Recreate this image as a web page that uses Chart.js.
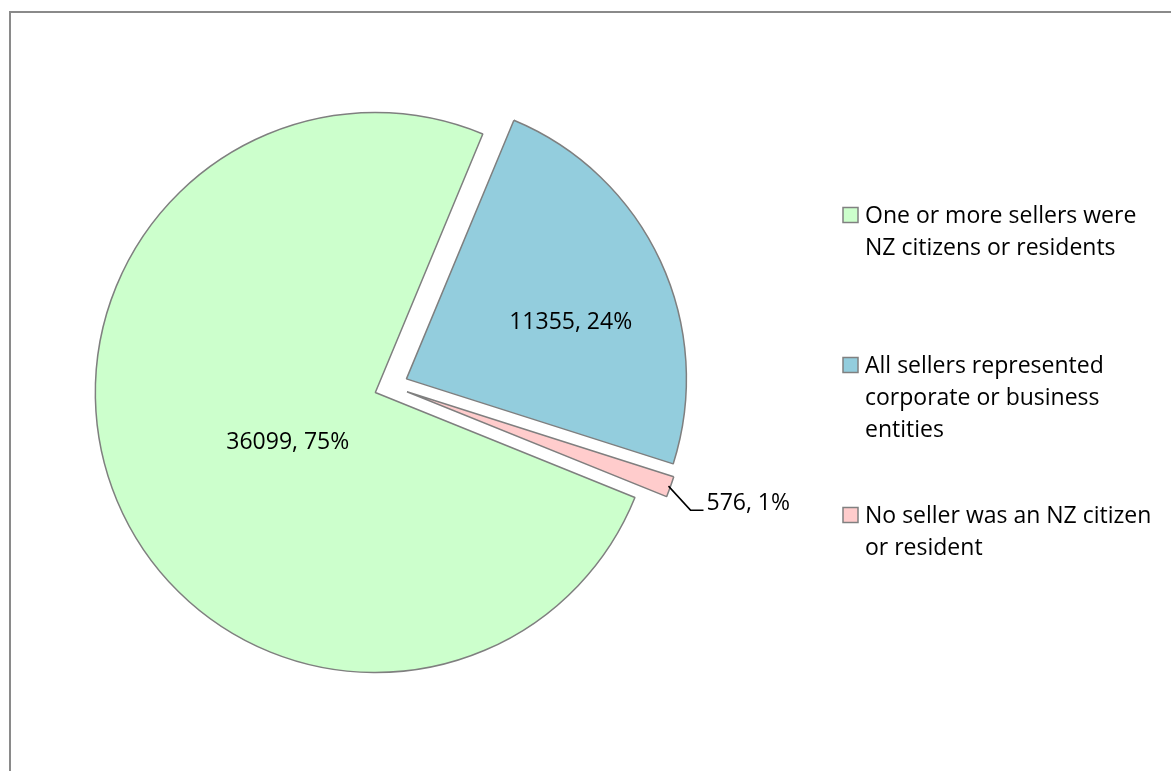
<!DOCTYPE html>
<html>
<head>
<meta charset="utf-8">
<script src="https://cdn.jsdelivr.net/npm/chart.js@4.4.1/dist/chart.umd.min.js"></script>
<style>
    html, body { margin: 0; padding: 0; background: #ffffff; }
    #wrap { width: 1171px; height: 771px; position: relative; }
</style>
</head>
<body>
<div id="wrap"><canvas id="chart" width="1171" height="771"></canvas></div>
<script>

// categories (legend text, already wrapped the way the legend shows it)
let categories = [
    ['One or more sellers were', 'NZ citizens or residents'],
    ['All sellers represented', 'corporate or business', 'entities'],
    ['No seller was an NZ citizen', 'or resident']
]

// number of transfers per seller type
let sellerCounts = [36099, 11355, 576]

let sliceColors = ['#ccffcc', '#93cddd', '#ffcccc']


const FONT = '23px "Open Sans", "Noto Sans", sans-serif'
const EXPLODE = 17   // px every slice is pulled out from the centre

function toPct(v) {
    let total = sellerCounts.reduce((a, b) => a + b, 0)
    return Math.round(v / total * 100) + '%'
}

// outline around the chart, like the excel chart frame
const framePlugin = {
    id: 'frame',
    beforeDraw(chart) {
        const c = chart.ctx
        c.save()
        c.strokeStyle = '#8a8a8a'
        c.lineWidth = 2
        c.strokeRect(10, 12, 1200, 800)
        c.restore()
    }
}

// chart.js "offset" also grows big slices, so explode them by hand instead
const explodePlugin = {
    id: 'explode',
    beforeDatasetDraw(chart, args) {
        const c = chart.ctx
        args.meta.data.forEach((arc) => {
            const mid = (arc.startAngle + arc.endAngle) / 2
            c.save()
            c.translate(Math.cos(mid) * EXPLODE, Math.sin(mid) * EXPLODE)
            arc.draw(c)
            c.restore()
        })
        return false
    }
}

// value labels on the slices
// angle shift (deg) and distance (fraction of radius) tuned by eye
let labelShift = [-7, 6, 0]
let labelDist = [0.36, 0.62, 0]

const sliceLabels = {
    id: 'sliceLabels',
    afterDatasetsDraw(chart) {
        const c = chart.ctx
        const meta = chart.getDatasetMeta(0)
        c.save()
        c.font = FONT
        c.fillStyle = '#000000'
        meta.data.forEach((arc, i) => {
            const p = arc.getProps(['x', 'y', 'startAngle', 'endAngle', 'outerRadius'], true)
            const mid = (p.startAngle + p.endAngle) / 2
            // vertex of the exploded slice
            const vx = p.x + Math.cos(mid) * EXPLODE
            const vy = p.y + Math.sin(mid) * EXPLODE
            const txt = sellerCounts[i] + ', ' + toPct(sellerCounts[i])

            if (i === 2) {
                // small slice: label outside with a leader line
                const sx = vx + Math.cos(mid) * (p.outerRadius - 2)
                const sy = vy + Math.sin(mid) * (p.outerRadius - 2)
                const ex = sx + 22
                const ey = sy + 24
                c.strokeStyle = '#000000'
                c.lineWidth = 1.5
                c.beginPath()
                c.moveTo(sx, sy)
                c.lineTo(ex, ey)
                c.lineTo(ex + 13, ey)
                c.stroke()
                c.textAlign = 'left'
                c.textBaseline = 'alphabetic'
                c.fillText(txt, ex + 16, ey)
                return
            }

            const a = mid + labelShift[i] * Math.PI / 180
            const r = p.outerRadius * labelDist[i]
            c.textAlign = 'center'
            c.textBaseline = 'middle'
            c.fillText(txt, vx + Math.cos(a) * r, vy + Math.sin(a) * r)
        })
        c.restore()
    }
}

// legend on the right, drawn by hand because entries wrap over lines
const sideLegend = {
    id: 'sideLegend',
    afterDraw(chart) {
        const c = chart.ctx
        const ds = chart.data.datasets[0]
        let boxX = 843
        let textX = 865
        let firstY = 215
        let step = 150
        let lineH = 32
        c.save()
        c.font = FONT
        c.textAlign = 'left'
        c.textBaseline = 'middle'
        chart.data.labels.forEach((lines, i) => {
            let y = firstY + i * step
            c.fillStyle = ds.backgroundColor[i]
            c.fillRect(boxX, y - 7.5, 15, 15)
            c.strokeStyle = '#808080'
            c.lineWidth = 1.5
            c.strokeRect(boxX, y - 7.5, 15, 15)
            c.fillStyle = '#000000'
            lines.forEach((ln, k) => {
                c.fillText(ln, textX, y + k * lineH + 1)
            })
        })
        c.restore()
    }
}


const data = {
    labels: categories,
    datasets: [{
        data: sellerCounts,
        backgroundColor: sliceColors,
        borderColor: '#7f7f7f',
        borderWidth: 1.5
    }]
}

const options = {
    responsive: false,
    animation: false,
    rotation: 112,
    radius: 280,
    layout: {
        padding: { left: 20, right: 409, top: 20, bottom: 19 }
    },
    plugins: {
        legend: { display: false },
        tooltip: { enabled: false }
    }
}

const ctx = document.getElementById('chart').getContext('2d')
const pieChart = new Chart(ctx, {
    type: 'pie',
    data: data,
    options: options,
    plugins: [framePlugin, explodePlugin, sliceLabels, sideLegend]
})

</script>
</body>
</html>
